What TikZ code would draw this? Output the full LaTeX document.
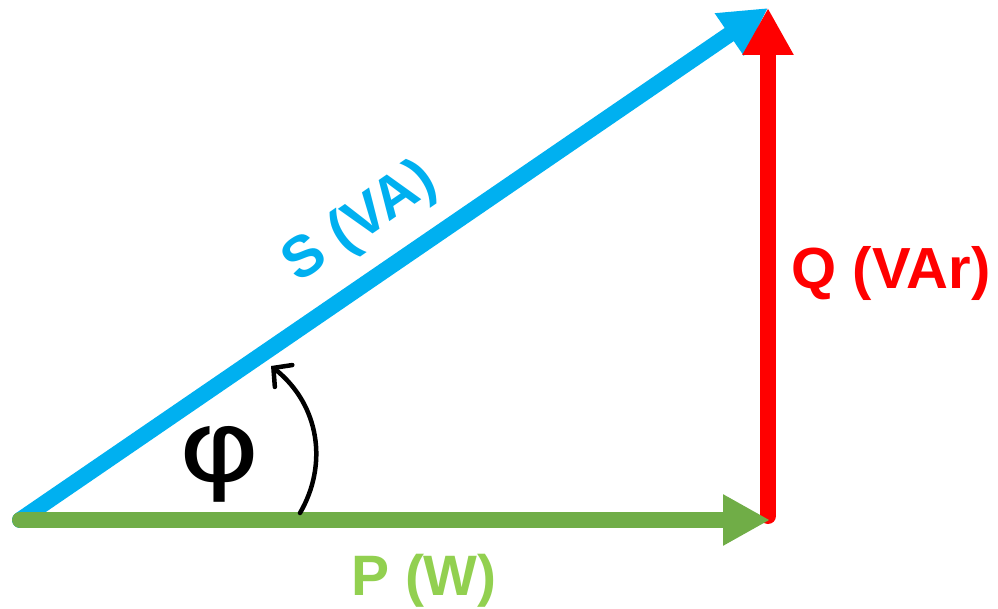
\documentclass[tikz,border=0pt]{standalone}
\usepackage{fontspec}
\setmainfont{Liberation Sans}
\newfontfamily\phifont{DejaVu Sans}
\usetikzlibrary{arrows.meta}
\definecolor{sblue}{HTML}{00B0F0}
\definecolor{qred}{HTML}{FF0000}
\definecolor{pgreen}{HTML}{70AD47}
\definecolor{ptext}{HTML}{92D050}
\tikzset{
  vec/.style={line width=16pt, line cap=round, -{Triangle[length=47pt,width=48pt]}},
  lbl/.style={font=\fontsize{57}{60}\selectfont\bfseries, inner sep=0pt, anchor=base},
}
\begin{document}
\begin{tikzpicture}[x=1pt,y=-1pt]
\useasboundingbox (0,0) rectangle (998,609);
\coordinate (O) at (20,520);
\coordinate (Stip) at (768,8);
\coordinate (Ptip) at (770,520);
\coordinate (Qbot) at (768,516);
\draw[vec, sblue] (O) -- (Stip);
\draw[vec, qred] (Qbot) -- (Stip);
\draw[vec, pgreen] (O) -- (Ptip);
\coordinate (a0) at (300,513);
\coordinate (a1) at (271,366);
\draw[line width=4.5pt, line cap=round, -{Straight Barb[length=13pt,width=28pt,line cap=round]}] (a0) .. controls (328,465) and (320,405) .. (a1);
\node[inner sep=0pt, font=\phifont\fontsize{100}{100}\selectfont] (phi) at (220,464) {\scalebox{1.25}[1]{φ}};
\node[lbl, text=sblue, rotate=34.4, font=\fontsize{58}{60}\selectfont\bfseries] (S) at (369,236) {S (VA)};
\node[lbl, text=qred, font=\fontsize{58}{60}\selectfont\bfseries] (Q) at (891,289) {Q (VAr)};
\node[lbl, text=ptext] (P) at (424,595) {P (W)};
\end{tikzpicture}
\end{document}
